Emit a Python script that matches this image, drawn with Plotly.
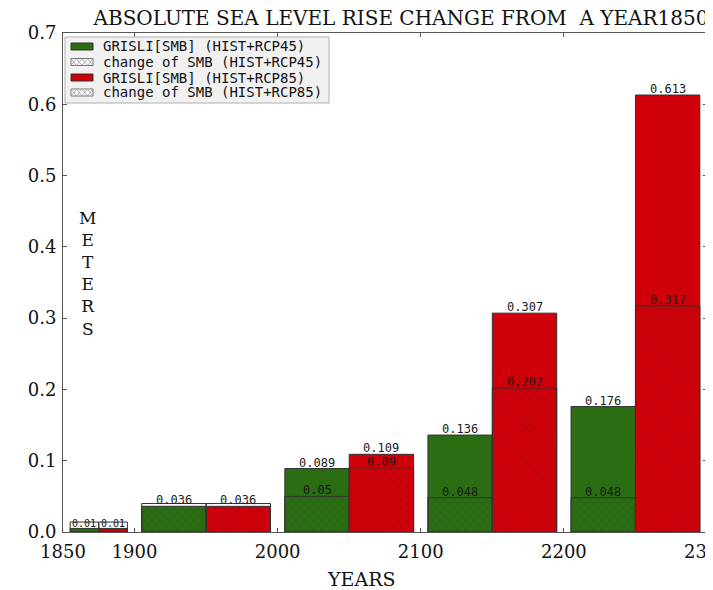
import plotly.graph_objects as go

# ---- data ----
tick_years = [1850, 1900, 2000, 2100, 2200, 2300]
tick_labels = ["1850", "1900", "2000", "2100", "2200", "2300"]
y_ticks = [0.0, 0.1, 0.2, 0.3, 0.4, 0.5, 0.6, 0.7]

# bar left edges / widths (years)
rcp45_start = [1855, 1905, 2005, 2105, 2205]
rcp85_start = [1875, 1950, 2050, 2150, 2250]
bar_width = [20, 45, 45, 45, 45]

grisli_45 = [0.005, 0.036, 0.089, 0.136, 0.176]
smb_45 = [0.014, 0.040, 0.050, 0.048, 0.048]
grisli_85 = [0.005, 0.036, 0.109, 0.307, 0.613]
smb_85 = [0.014, 0.040, 0.090, 0.202, 0.317]

grisli_45_text = ["0.01", "0.036", "0.089", "0.136", "0.176"]
smb_45_text = ["", "", "0.05", "0.048", "0.048"]
grisli_85_text = ["0.01", "0.036", "0.109", "0.307", "0.613"]
smb_85_text = ["", "", "0.09", "0.202", "0.317"]

legend_names = ["GRISLI[SMB] (HIST+RCP45)", "change of SMB (HIST+RCP45)",
                "GRISLI[SMB] (HIST+RCP85)", "change of SMB (HIST+RCP85)"]

GREEN = "#2b6d13"
RED = "#cf0009"
EDGE = "#333333"

# page is shown with an 8px body margin; compensate
OFF = 8
W, H = 713 - OFF, 590 - OFF
L, T, R, B = 63 - OFF, 33 - OFF, 6, 58
PW, PH = W - L - R, H - T - B


def P(px, py):
    """page pixel -> paper coords"""
    return (px - OFF - L) / PW, (H - B - (py - OFF)) / PH


x45 = [s + w / 2 for s, w in zip(rcp45_start, bar_width)]
x85 = [s + w / 2 for s, w in zip(rcp85_start, bar_width)]

fig = go.Figure()


def solid(name, x, y, color):
    return go.Bar(name=name, x=x, y=y, width=bar_width,
                  marker=dict(color=color, line=dict(color=EDGE, width=1)),
                  hoverinfo="skip", showlegend=False)


def hatched(name, x, y):
    return go.Bar(name=name, x=x, y=y, width=bar_width,
                  marker=dict(color="rgba(0,0,0,0)",
                              line=dict(color=EDGE, width=1),
                              pattern=dict(shape="x", size=6, solidity=0.12,
                                           fgcolor="#1a1a1a", fgopacity=0.3,
                                           fillmode="overlay")),
                  hoverinfo="skip", showlegend=False)


fig.add_trace(solid(legend_names[0], x45, grisli_45, GREEN))
fig.add_trace(hatched(legend_names[1], x45, smb_45))
fig.add_trace(solid(legend_names[2], x85, grisli_85, RED))
fig.add_trace(hatched(legend_names[3], x85, smb_85))

lab_font = dict(family="DejaVu Sans Mono", size=12, color="#1a1a1a")
for xs, ys, ts in [(x45, grisli_45, grisli_45_text), (x45, smb_45, smb_45_text),
                   (x85, grisli_85, grisli_85_text), (x85, smb_85, smb_85_text)]:
    for i, (xv, yv, tv) in enumerate(zip(xs, ys, ts)):
        if not tv:
            continue
        f = dict(lab_font)
        if i == 0:
            f["size"] = 10
        fig.add_annotation(x=xv, y=yv, text=tv, showarrow=False,
                           xanchor="center", yanchor="bottom", yshift=-3,
                           font=f)

# ---- legend (drawn manually to match the compact original) ----
shapes = []
bx0, by0 = P(65, 37)
bx1, by1 = P(329, 103)
shapes.append(dict(type="rect", xref="paper", yref="paper", x0=bx0, y0=by1,
                   x1=bx1, y1=by0, fillcolor="#f1f1f1",
                   line=dict(color="#b0b0b0", width=1), layer="above"))
row_y = [46.5, 62, 77.5, 92.5]
sw_x0, sw_x1 = 71, 93
for k, ry in enumerate(row_y):
    sx0, sy0 = P(sw_x0, ry - 3.5)
    sx1, sy1 = P(sw_x1, ry + 3.5)
    if k in (0, 2):
        shapes.append(dict(type="rect", xref="paper", yref="paper",
                           x0=sx0, y0=sy1, x1=sx1, y1=sy0,
                           fillcolor=GREEN if k == 0 else RED,
                           line=dict(color=EDGE, width=1), layer="above"))
    else:
        shapes.append(dict(type="rect", xref="paper", yref="paper",
                           x0=sx0, y0=sy1, x1=sx1, y1=sy0,
                           fillcolor="white",
                           line=dict(color="#777", width=1), layer="above"))
        step = 5.5
        xa = sw_x0
        path = ""
        while xa + step <= sw_x1 + 0.1:
            a = P(xa, ry + 3.5)
            b = P(xa + step, ry - 3.5)
            c = P(xa, ry - 3.5)
            d = P(xa + step, ry + 3.5)
            path += f"M{a[0]},{a[1]} L{b[0]},{b[1]} M{c[0]},{c[1]} L{d[0]},{d[1]} "
            xa += step
        shapes.append(dict(type="path", xref="paper", yref="paper", path=path,
                           line=dict(color="#999", width=0.8), layer="above"))
    tx, ty = P(101, ry)
    fig.add_annotation(xref="paper", yref="paper", x=tx, y=ty,
                       text=legend_names[k], showarrow=False,
                       xanchor="left", yanchor="middle",
                       font=dict(family="DejaVu Sans Mono", size=14, color="#111"))

# vertical METERS label inside plot
mx, my = P(87, 273)
fig.add_annotation(xref="paper", yref="paper", x=mx, y=my,
                   text="M<br>E<br>T<br>E<br>R<br>S", showarrow=False,
                   xanchor="center", yanchor="middle", align="center",
                   font=dict(family="DejaVu Serif", size=17, color="#111"))

# x-axis title
yx, yy = P(361, 579)
fig.add_annotation(xref="paper", yref="paper", x=yx, y=yy, text="YEARS",
                   showarrow=False, xanchor="center", yanchor="middle",
                   font=dict(family="DejaVu Serif", size=19, color="#111"))

fig.update_layout(
    width=W, height=H,
    margin=dict(l=L, r=R, t=T, b=B, pad=0),
    barmode="overlay",
    plot_bgcolor="white", paper_bgcolor="white",
    shapes=shapes,
    title=dict(text="ABSOLUTE SEA LEVEL RISE CHANGE FROM  A YEAR1850",
               x=(401 - OFF) / W, xanchor="center",
               y=1 - (18 - OFF) / H, yanchor="middle",
               font=dict(family="DejaVu Serif", size=20, color="#111")),
    showlegend=False,
    xaxis=dict(range=[1850, 2300], tickvals=tick_years, ticktext=tick_labels,
               ticks="inside", ticklen=4, tickcolor="#555", mirror="ticks",
               showline=True, linecolor="#555", linewidth=1, showgrid=False,
               zeroline=False, automargin=False, ticklabeloverflow="allow",
               ticklabelstandoff=3,
               tickfont=dict(family="DejaVu Serif", size=18, color="#111")),
    yaxis=dict(range=[0, 0.7], tickvals=y_ticks,
               ticktext=["%.1f" % v for v in y_ticks],
               ticks="inside", ticklen=4, tickcolor="#555", mirror="ticks",
               showline=True, linecolor="#555", linewidth=1, showgrid=False,
               zeroline=False, automargin=False, ticklabelstandoff=2,
               tickfont=dict(family="DejaVu Serif", size=18, color="#111")),
)

fig.write_html("out.html")
